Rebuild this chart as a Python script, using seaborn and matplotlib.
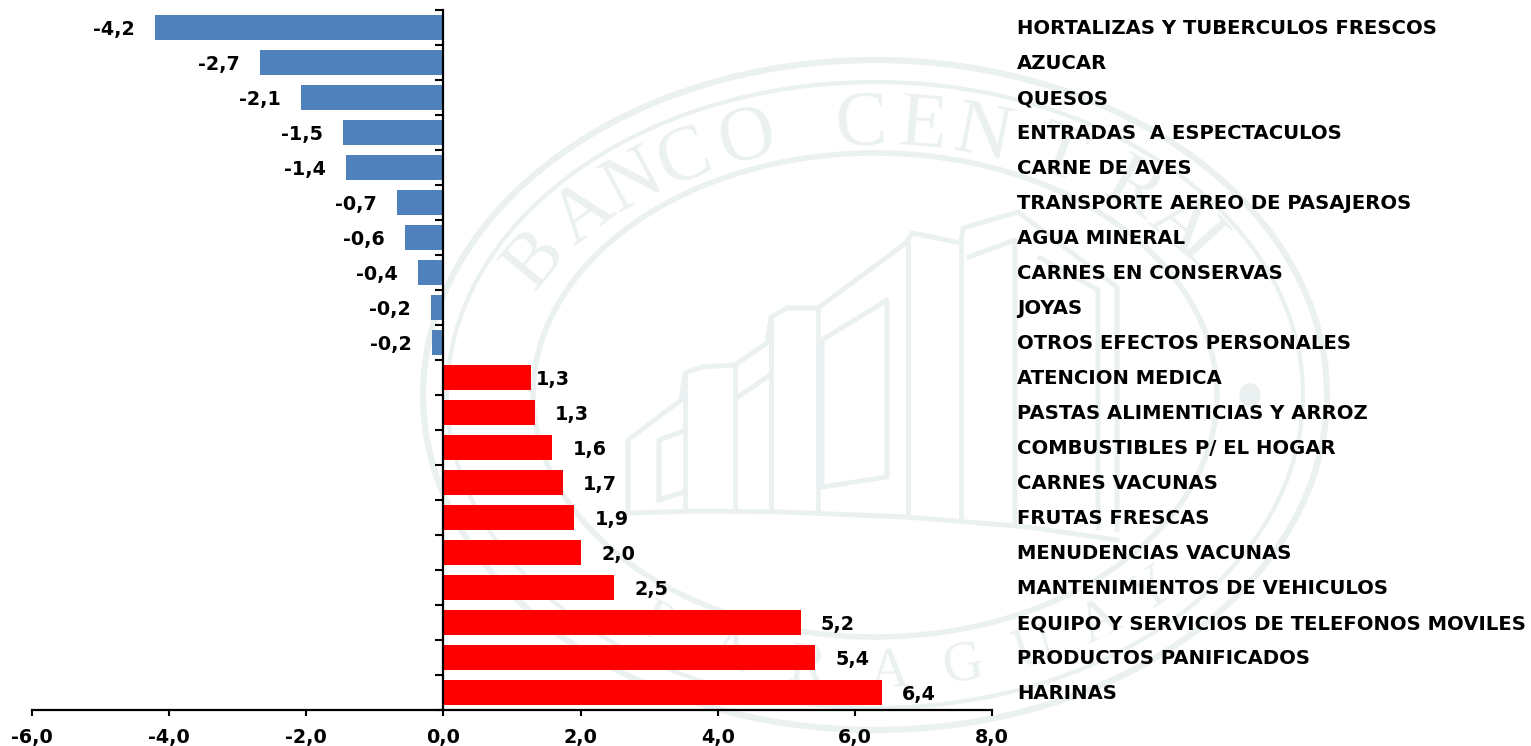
import numpy as np
import pandas as pd
import seaborn as sns
import matplotlib.pyplot as plt
from matplotlib.patches import Ellipse

categories = ['HORTALIZAS Y TUBERCULOS FRESCOS', 'AZUCAR', 'QUESOS', 'ENTRADAS  A ESPECTACULOS',
              'CARNE DE AVES', 'TRANSPORTE AEREO DE PASAJEROS', 'AGUA MINERAL', 'CARNES EN CONSERVAS',
              'JOYAS', 'OTROS EFECTOS PERSONALES', 'ATENCION MEDICA', 'PASTAS ALIMENTICIAS Y ARROZ',
              'COMBUSTIBLES P/ EL HOGAR', 'CARNES VACUNAS', 'FRUTAS FRESCAS', 'MENUDENCIAS VACUNAS',
              'MANTENIMIENTOS DE VEHICULOS', 'EQUIPO Y SERVICIOS DE TELEFONOS MOVILES',
              'PRODUCTOS PANIFICADOS', 'HARINAS']
values = [-4.21, -2.67, -2.08, -1.46, -1.42, -0.68, -0.56, -0.37, -0.18, -0.17,
          1.27, 1.33, 1.59, 1.74, 1.91, 2.01, 2.49, 5.21, 5.42, 6.39]
x_ticks = [-6, -4, -2, 0, 2, 4, 6, 8]

BLUE = '#4f81bd'
RED = '#ff0000'
WM = '#ebf0f0'
W, H = 1531, 746

df = pd.DataFrame({'cat': categories, 'val': values})
df['color'] = [BLUE if v < 0 else RED for v in values]

plt.rcParams['font.family'] = ['DejaVu Sans']
fig = plt.figure(figsize=(W / 100, H / 100), dpi=100)

# watermark seal behind the chart, in pixel coordinates
bg = fig.add_axes([0, 0, 1, 1], zorder=0)
bg.set_xlim(0, W)
bg.set_ylim(H, 0)
bg.axis('off')
cx, cy = 875, 395
for rx, ry, lw in [(452, 335, 4.5), (428, 313, 3), (342, 242, 4)]:
    bg.add_patch(Ellipse((cx, cy), 2 * rx, 2 * ry, fill=False, ec=WM, lw=lw))

def arc_text(word, angles, rx, ry, size):
    for a, ch in zip(angles, word):
        t = np.radians(a)
        x = cx + rx * np.cos(t)
        y = cy - ry * np.sin(t)
        rot = np.degrees(np.arctan2(-ry * np.cos(t), rx * np.sin(t)))
        if np.sin(t) < 0:
            rot += 180
        bg.text(x, y, ch, color=WM, fontsize=size, family='Liberation Serif',
                rotation=rot, rotation_mode='anchor', ha='center', va='center')

arc_text('BANCOCENTRAL', [150, 138, 128, 119, 109, 92, 83, 74, 62, 49, 39, 32], 392, 270, 56)
arc_text('PARAGUAY', [236, 248, 260, 272, 283, 294, 305, 315], 392, 278, 40)

building_lines = [
    [(628, 513), (628, 440), (681, 400), (685, 373), (702, 367), (735, 365), (767, 343),
     (771, 317), (787, 308), (818, 308), (906, 243), (912, 233), (961, 243), (963, 228),
     (1018, 212), (1117, 287), (1117, 530)],
    [(628, 513), (700, 511), (783, 512), (906, 517), (1028, 527), (1117, 540)],
    [(659, 500), (659, 440), (681, 432)],
    [(659, 500), (681, 493)],
    [(685, 373), (685, 511)],
    [(735, 365), (735, 511)],
    [(738, 397), (770, 375)],
    [(771, 317), (771, 511)],
    [(818, 308), (818, 512)],
    [(822, 340), (887, 300), (887, 477), (822, 487), (822, 340)],
    [(908, 243), (908, 515)],
    [(961, 243), (961, 520)],
    [(969, 257), (1015, 240), (1015, 525)],
    [(1040, 258), (1098, 290), (1098, 528)],
]
for pts in building_lines:
    xs, ys = zip(*pts)
    bg.plot(xs, ys, color=WM, lw=3.5, solid_joinstyle='round')
bg.add_patch(Ellipse((1250, 395), 20, 22, color=WM))

ax = fig.add_axes([32 / W, 1 - 710 / H, 960 / W, 700 / H], zorder=1)
ax.patch.set_alpha(0)
sns.barplot(data=df, y='cat', x='val', hue='cat', palette=dict(zip(df['cat'], df['color'])),
            legend=False, width=0.71, saturation=1, ax=ax)
ax.set_xlim(-6, 8)
ax.set_ylim(len(categories) - 0.5, -0.5)
ax.set_xlabel('')
ax.set_ylabel('')

for s in ['top', 'right']:
    ax.spines[s].set_visible(False)
ax.spines['left'].set_position(('data', 0))
ax.spines['left'].set_linewidth(1.6)
ax.spines['bottom'].set_linewidth(1.6)
ax.spines['left'].set_color('black')
ax.spines['bottom'].set_color('black')

ax.set_xticks(x_ticks)
ax.set_xticklabels([f'{t:.1f}'.replace('.', ',') for t in x_ticks], fontsize=13.8, fontweight='bold')
ax.tick_params(axis='x', length=4.5, width=1.5, pad=8.5, color='black')
ax.set_yticks(np.arange(len(categories) + 1) - 0.5)
ax.set_yticklabels([])
ax.tick_params(axis='y', length=5.5, width=1.5, color='black')

for i, (c, v) in enumerate(zip(categories, values)):
    ax.annotate(c, (1.026, i), xycoords=ax.get_yaxis_transform(), xytext=(0, -0.8),
                textcoords='offset points', ha='left', va='center',
                fontsize=14.15, fontweight='bold', color='black')
    gap = 3.5 if c == 'ATENCION MEDICA' else 14.5
    ax.annotate(f'{v:.1f}'.replace('.', ','), (v, i), xytext=(gap if v > 0 else -gap, -1.5),
                textcoords='offset points', ha='left' if v > 0 else 'right', va='center',
                fontsize=13.8, fontweight='bold', color='black')

fig.savefig('out.png', dpi=100)
